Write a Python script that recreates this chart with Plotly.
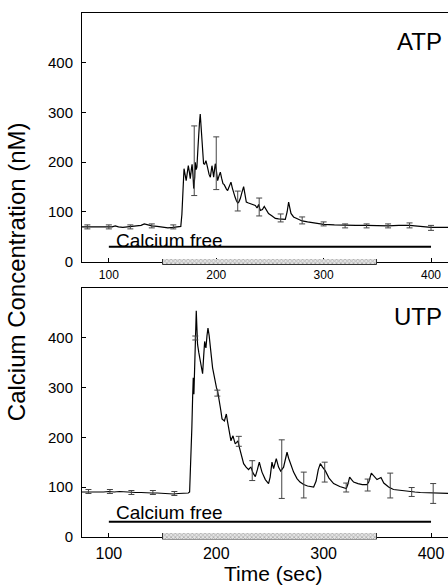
import plotly.graph_objects as go

# ---------------- data ----------------
atp_t = [75, 80, 85, 90, 95, 100, 103, 106, 109, 113, 118, 122, 126, 130, 133, 136, 140, 145, 150, 155, 160, 164, 167,
         168, 169, 170, 171, 172, 173, 174, 175, 175.8, 176.8, 177.5, 178.3, 179, 180, 180.5, 181.3, 182, 183, 183.6,
         184.4, 185.1, 185.9, 186.7, 187.5, 188.2, 189.2, 190.4, 191.3, 192.3, 193.4, 194.5, 195.2, 196, 196.8, 197.6,
         198.4, 199.1, 200, 201.3, 202.5, 203.8, 205, 206.3, 207.4, 208.4, 209.5, 210.6, 212, 213.7, 215, 216.2, 217.5,
         218.7, 220, 221, 222.4, 224, 225.5, 226.8, 228, 230, 231.7, 234, 236.4, 238, 239.5, 241, 243, 244.7, 246.5,
         248.7, 252, 255, 258, 261, 264.3, 266, 267.4, 268.5, 269.6, 272, 275.2, 280, 285, 290, 295, 300, 310, 320,
         330, 340, 350, 360, 370, 380, 390, 400, 410, 416]
atp_v = [70, 70, 69, 69, 69, 69, 70, 72, 70, 69, 70, 70, 71, 73, 76, 74, 72, 71, 70, 68, 69, 70, 71,
         95, 150, 187, 175, 163, 178, 193, 180, 167, 185, 196, 175, 147, 170, 200, 185, 190, 230, 263,
         280, 297, 270, 250, 222, 197, 196, 203, 195, 183, 175, 170, 182, 193, 182, 170,
         185, 197, 185, 163, 172, 180, 168, 157, 155, 150, 146, 143, 150, 160, 148, 137, 130,
         123, 118, 120, 127, 140, 151, 135, 120, 118, 117, 115, 113, 108, 115, 103, 105, 111, 104,
         97, 92, 87, 86, 85, 85, 100, 120, 108, 97, 90, 87, 82, 80, 78, 76, 75, 74, 73,
         73, 73, 72, 72, 73, 73, 71, 69, 69, 69]
atp_err_t = [80, 100, 120, 140, 160, 179.5, 200, 220, 240, 260, 280, 300, 320, 340, 360, 380, 400]
atp_err_m = [70, 70, 70, 72, 70, 203, 198, 122, 110, 88, 83, 76, 72, 72, 72, 73, 68]
atp_err_e = [4, 4, 4, 4, 4, 70, 53, 20, 18, 8, 7, 4, 4, 4, 4, 5, 5]

utp_t = [75, 80, 85, 90, 95, 100, 105, 110, 115, 120, 125, 130, 135, 140, 145, 150, 155, 160, 165, 170, 174,
         175.2, 176.5, 177.3, 178, 178.6, 179.2, 179.8, 180.2, 180.8, 181.4, 182, 182.6, 183.8, 185.1, 186.2, 187.3,
         188.2, 189.2, 189.8, 190.4, 191.4, 192.3, 193.4, 194.5, 195.5, 196.6, 197.8, 199.1, 200.2, 201.3, 202.2,
         203.1, 204.2, 205.4, 206.5, 207.6, 208.5, 209.4, 210.4, 211.5, 212.6, 213.7, 214.6, 215.6, 216.6, 217.7,
         219, 220.2, 221.3, 222.4, 224, 225.5, 227.8, 230.1, 231.2, 232.3, 234.3, 236.4, 238.3, 240.1, 241.3, 242.6,
         245.7, 248.7, 250.2, 251.9, 253.4, 255.9, 258, 260, 262.7, 264.5, 265.9, 267.4, 269, 272, 275.2, 278, 281.4,
         285, 290.7, 293, 295, 296.9, 299, 301.5, 305, 309.3, 315, 321.1, 322.5, 324.2, 326, 327.9, 332, 336, 340.3,
         342, 344.4, 347, 349.7, 351.5, 353.4, 356, 360.5, 365, 371.4, 378, 385, 390, 400, 408, 416]
utp_v = [90, 90, 90, 89, 90, 91, 90, 91, 90, 89, 89, 89, 88, 88, 88, 87, 87, 86, 87, 87, 88,
         90, 160, 220, 280, 320, 287, 340, 400, 430, 455, 420, 387, 370, 353, 340, 328,
         360, 393, 385, 380, 405, 420, 405, 387, 362, 340, 325, 310, 300, 293, 283,
         273, 255, 237, 235, 233, 240, 247, 233, 220, 205, 193, 198, 203, 195, 187,
         190, 193, 182, 173, 160, 147, 140, 135, 138, 140, 128, 121, 135, 150, 140, 130,
         115, 107, 120, 150, 137, 157, 140, 132, 140, 155, 170, 158, 147, 130, 117, 110, 105,
         102, 100, 112, 135, 147, 140, 133, 118, 107, 101, 97, 105, 120, 115, 110, 107, 105, 105,
         110, 128, 121, 115, 117, 119, 108, 100, 95, 93, 91, 90, 89, 88, 87, 87]
utp_err_t = [81, 101, 121, 141, 161, 180.5, 201, 221, 233.5, 261, 281.5, 301, 321, 341, 362, 382, 402]
utp_err_m = [91, 91, 89, 89, 87, 400, 289, 192, 133, 136, 104, 130, 99, 104, 103, 90, 87]
utp_err_e = [4, 4, 4, 4, 4, 4, 6, 10, 20, 59, 26, 20, 9, 12, 25, 9, 20]

calcium_free_period = [100, 400]
calcium_free_level = 30
agonist_period = [150, 350]
x_ticks = [100, 200, 300, 400]
y_ticks = [0, 100, 200, 300, 400]
panel_labels = ["ATP", "UTP"]

# ---------------- figure ----------------
FONT = "Liberation Sans, Arial, sans-serif"
XR = [75, 415.8]
YR = [0, 500]
fig = go.Figure()

panels = [
    dict(t=atp_t, v=atp_v, et=atp_err_t, em=atp_err_m, ee=atp_err_e, xa="x", ya="y", label=panel_labels[0],
         cf_y=43, bar_xa="x3", bar_ya="y3"),
    dict(t=utp_t, v=utp_v, et=utp_err_t, em=utp_err_m, ee=utp_err_e, xa="x2", ya="y2", label=panel_labels[1],
         cf_y=48, bar_xa="x4", bar_ya="y4"),
]

for p in panels:
    fig.add_trace(go.Scatter(x=p["t"], y=p["v"], mode="lines", xaxis=p["xa"], yaxis=p["ya"],
                             line=dict(color="black", width=1.2), showlegend=False, hoverinfo="skip"))
    fig.add_trace(go.Scatter(x=p["et"], y=p["em"], mode="markers", xaxis=p["xa"], yaxis=p["ya"],
                             marker=dict(size=1, color="rgba(0,0,0,0)"),
                             error_y=dict(type="data", array=p["ee"], visible=True, color="#444444",
                                          thickness=1, width=3),
                             showlegend=False, hoverinfo="skip"))
    fig.add_trace(go.Scatter(x=calcium_free_period, y=[calcium_free_level] * 2, mode="lines",
                             xaxis=p["xa"], yaxis=p["ya"], line=dict(color="black", width=2),
                             showlegend=False, hoverinfo="skip"))
    fig.add_trace(go.Bar(x=[(agonist_period[0] + agonist_period[1]) / 2],
                         width=[agonist_period[1] - agonist_period[0]], y=[1], base=[0],
                         xaxis=p["bar_xa"], yaxis=p["bar_ya"],
                         marker=dict(color="#e4e4e4", line=dict(color="#333333", width=1),
                                     pattern=dict(shape="x", fgcolor="#666666", size=3, solidity=0.4)),
                         showlegend=False, hoverinfo="skip"))
    fig.add_annotation(x=105, y=p["cf_y"], xref=p["xa"], yref=p["ya"], text="Calcium free",
                       showarrow=False, xanchor="left", yanchor="middle",
                       font=dict(family=FONT, size=19, color="black"))
    fig.add_annotation(x=412, y=443, xref=p["xa"], yref=p["ya"], text=p["label"],
                       showarrow=False, xanchor="right", yanchor="middle",
                       font=dict(family=FONT, size=24, color="black"))

axis_common = dict(showline=True, linecolor="black", linewidth=1, ticks="inside", ticklen=4,
                   tickcolor="black", showgrid=False, zeroline=False)

top_dom = [0.5325, 1.0]
bot_dom = [0.0156, 0.4825]

fig.update_layout(
    width=448, height=585,
    margin=dict(l=82, r=0, t=13, b=40),
    paper_bgcolor="white", plot_bgcolor="rgba(0,0,0,0)",
    font=dict(family=FONT, color="black"),
    xaxis=dict(**axis_common, domain=[0, 1], anchor="y", range=XR, tickvals=x_ticks, mirror=True,
               tickfont=dict(size=12), ticklabelstandoff=2),
    yaxis=dict(**axis_common, domain=top_dom, anchor="x", range=YR, tickvals=y_ticks,
               tickfont=dict(size=15), ticklabelstandoff=5),
    xaxis2=dict(**axis_common, domain=[0, 1], anchor="y2", range=XR, tickvals=x_ticks, mirror=True,
                tickfont=dict(size=16), ticklabelstandoff=2),
    yaxis2=dict(**axis_common, domain=bot_dom, anchor="x2", range=YR, tickvals=y_ticks,
                tickfont=dict(size=15), ticklabelstandoff=5),
    xaxis3=dict(domain=[0, 1], anchor="y3", range=XR, visible=False),
    yaxis3=dict(domain=[0.5254, 0.5376], anchor="x3", range=[0, 1], visible=False),
    xaxis4=dict(domain=[0, 1], anchor="y4", range=XR, visible=False),
    yaxis4=dict(domain=[0.0103, 0.0226], anchor="x4", range=[0, 1], visible=False),
    bargap=0,
)

fig.add_annotation(x=-0.18, y=0.513, xref="paper", yref="paper", text="Calcium Concentration (nM)",
                   textangle=-90, showarrow=False, xanchor="center", yanchor="middle",
                   font=dict(family=FONT, size=24, color="black"))
fig.add_annotation(x=0.522, y=-0.0765, xref="paper", yref="paper", text="Time (sec)",
                   showarrow=False, xanchor="center", yanchor="bottom", borderpad=0,
                   font=dict(family=FONT, size=21, color="black"))

fig.write_html("out.html")
